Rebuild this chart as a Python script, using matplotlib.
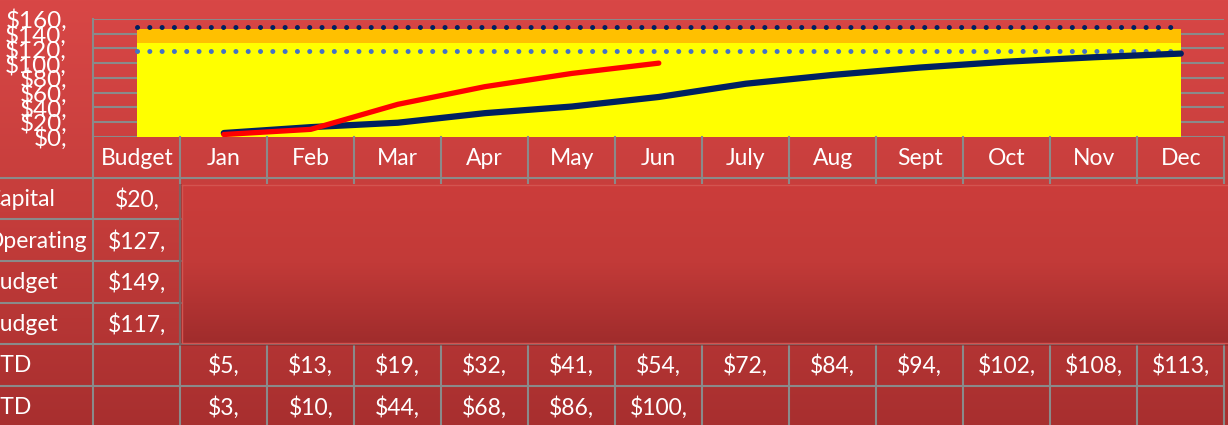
import matplotlib.pyplot as plt
import numpy as np
from matplotlib.colors import LinearSegmentedColormap

plt.rcParams["font.family"] = ["Lato", "DejaVu Sans"]

columns = ["Budget", "Jan", "Feb", "Mar", "Apr", "May", "Jun",
           "July", "Aug", "Sept", "Oct", "Nov", "Dec"]
row_labels = ["Capital", "Operating", "Budget", "Budget", "YTD", "YTD"]

capital_budget = 20
operating_budget = 127
total_budget = 149
revised_budget = 117

actual_ytd = [5, 13, 19, 32, 41, 54, 72, 84, 94, 102, 108, 113]
forecast_ytd = [3, 10, 44, 68, 86, 100]

y_ticks = [0, 20, 40, 60, 80, 100, 120, 140, 160]

W, H = 1228, 425
fig = plt.figure(figsize=(W / 100, H / 100), dpi=100)

# red gradient background
bg = fig.add_axes([0, 0, 1, 1], zorder=-10)
bg_cmap = LinearSegmentedColormap.from_list("bg", ["#d84746", "#c53d3b", "#a82f2f"])
bg.imshow(np.linspace(0, 1, 256).reshape(-1, 1), aspect="auto", cmap=bg_cmap,
          extent=[0, 1, 0, 1], origin="upper")
bg.axis("off")

left_px, right_px = 93.3, 1224.3
top_px, base_px = 19.0, 136.7
col_w = (right_px - left_px) / 13
grid_col = "#8a8a8a"
txt_col = "white"
fs = 16.5

# chart
ax = fig.add_axes([left_px / W, 1 - base_px / H, (right_px - left_px) / W,
                   (base_px - top_px) / H])
ax.set_facecolor("none")
ax.set_xlim(-0.5, 12.5)
ax.set_ylim(0, 160)
x_all = np.arange(len(columns))
ax.stackplot(x_all, [operating_budget] * len(columns), [capital_budget] * len(columns),
             colors=["#FFFF00", "#FFC000"], zorder=2)
ax.plot(x_all, [total_budget] * len(columns), color="#002060", lw=3.6,
        linestyle=(0, (0.01, 2.45)), dash_capstyle="round", zorder=3)
ax.plot(x_all, [revised_budget] * len(columns), color="#4472C4", lw=3.6,
        linestyle=(0, (0.01, 2.45)), dash_capstyle="round", zorder=3)
ax.plot(x_all[1:1 + len(actual_ytd)], actual_ytd, color="#002060", lw=4.5,
        solid_capstyle="round", zorder=4)
ax.plot(x_all[1:1 + len(forecast_ytd)], forecast_ytd, color="#FF0000", lw=3.8,
        solid_capstyle="round", zorder=5)
for v in y_ticks:
    ax.axhline(v, color=grid_col, lw=1.5, zorder=1)
ax.set_yticks(y_ticks)
ax.set_yticklabels([f"${v}," for v in y_ticks], color=txt_col, fontsize=17.5)
ax.tick_params(axis="y", length=0, pad=19)
ax.set_xticks([])
for s in ["top", "right", "bottom"]:
    ax.spines[s].set_visible(False)
ax.spines["left"].set_color(grid_col)
ax.spines["left"].set_linewidth(1.5)

# table (y in pixels from top)
tb = fig.add_axes([left_px / W, 0, (right_px - left_px) / W, 1 - base_px / H])
tb.set_facecolor("none")
tb.set_xlim(-0.5, 12.5)
tb.set_ylim(H, base_px)
tb.axis("off")

row_h = 41.6
row_edges = [base_px] + [base_px + 41.0 + i * row_h for i in range(7)]
x_left = -0.5 - left_px / col_w - 0.2

for y in row_edges[1:]:
    tb.plot([x_left, 12.5], [y, y], color=grid_col, lw=1.5, clip_on=False)
for k in range(14):
    xk = -0.5 + k
    tb.plot([xk, xk], [base_px, H + 5], color=grid_col, lw=1.5, clip_on=False)

def cy(r):
    return (row_edges[r] + row_edges[r + 1]) / 2 + 1

for j, name in enumerate(columns):
    tb.text(j, cy(0), name, color=txt_col, fontsize=fs, ha="center", va="center")

budget_vals = [capital_budget, operating_budget, total_budget, revised_budget]
label_x = -0.5 - (left_px + 14) / col_w
for r, lab in enumerate(row_labels):
    tb.text(label_x, cy(r + 1), lab, color=txt_col, fontsize=fs, ha="left",
            va="center", clip_on=False)
for r, v in enumerate(budget_vals):
    tb.text(0, cy(r + 1), f"${v},", color=txt_col, fontsize=fs, ha="center", va="center")
for j, v in enumerate(actual_ytd):
    tb.text(j + 1, cy(5), f"${v},", color=txt_col, fontsize=fs, ha="center", va="center")
for j, v in enumerate(forecast_ytd):
    tb.text(j + 1, cy(6), f"${v},", color=txt_col, fontsize=fs, ha="center", va="center")

# empty legend box covering the middle rows
box_x0 = 0.5 + 1.5 / col_w
box_x1 = 12.5 + 10 / col_w
box_y0, box_y1 = 185.0, 343.3
sx = 3 / col_w
tb.fill_between([box_x0 - sx, box_x1], box_y0 - 1, box_y1 + 3, color="#6a1e1e",
                alpha=0.35, lw=0, zorder=5, clip_on=False)
box_cmap = LinearSegmentedColormap.from_list("box", ["#cc3d3b", "#c23a38", "#a02c2c"])
tb.imshow(np.linspace(0, 1, 256).reshape(-1, 1), aspect="auto", cmap=box_cmap,
          extent=[box_x0, box_x1, box_y1, box_y0], origin="upper", zorder=6,
          clip_on=False)
tb.plot([box_x0, box_x1, box_x1, box_x0, box_x0], [box_y0, box_y0, box_y1, box_y1, box_y0],
        color="#d35450", lw=1.0, zorder=7, clip_on=False)
tb.set_xlim(-0.5, 12.5)
tb.set_ylim(H, base_px)

fig.savefig("out.png", dpi=100)
